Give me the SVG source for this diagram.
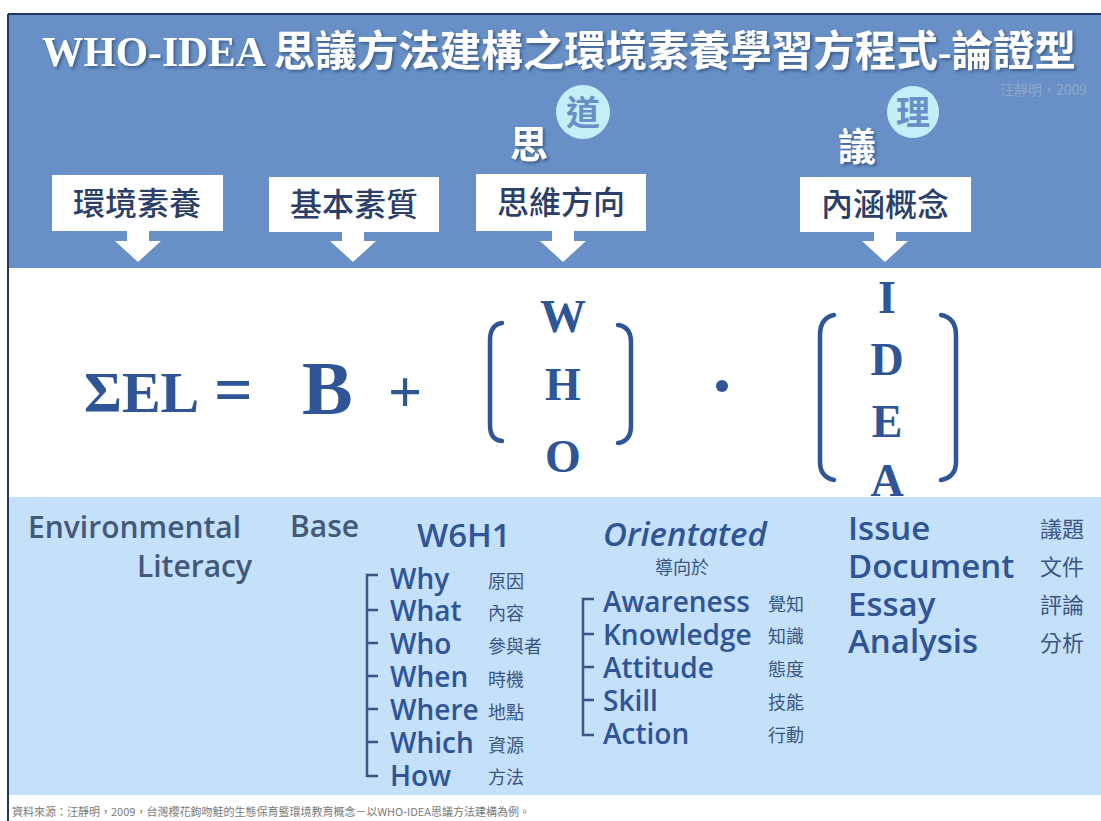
<svg xmlns="http://www.w3.org/2000/svg" width="1101" height="821" viewBox="0 0 1101 821">
<defs>
<style>
.box{fill:#ffffff}
.arr{fill:#ffffff}
.bt{font-family:"Noto Sans CJK TC",serif;font-size:32px;font-weight:500;fill:#2b3f68;text-anchor:middle}
.f{font-family:"Liberation Serif",serif;font-weight:bold;fill:#2f5597}
.fl{font-family:"Liberation Serif",serif;font-weight:bold;fill:#2f5597;font-size:46px;text-anchor:middle}
.par{fill:none;stroke:#2f5597;stroke-width:4.5;stroke-linecap:round}
.en{font-family:"Open Sans","Liberation Sans",sans-serif;font-weight:600;fill:#44597a}
.it{font-family:"Open Sans","Liberation Sans",sans-serif;font-weight:600;fill:#2f5597}
.cj{font-family:"Noto Sans CJK TC",sans-serif;fill:#3a5584}
.br{fill:none;stroke:#3a5584;stroke-width:2.5}
</style>
<filter id="sh" x="-10%" y="-20%" width="130%" height="160%">
<feDropShadow dx="2" dy="2" stdDeviation="1.5" flood-color="#233a66" flood-opacity="0.6"/>
</filter>
</defs>

<!-- backgrounds -->
<rect x="0" y="0" width="1101" height="821" fill="#ffffff"/>
<rect x="8" y="14" width="1093" height="254" fill="#6890c6"/>
<rect x="8" y="497" width="1093" height="298" fill="#c5e0f9"/>
<line x1="8" y1="14" x2="1101" y2="14" stroke="#1f3766" stroke-width="2"/>
<line x1="8" y1="14" x2="8" y2="821" stroke="#1f3766" stroke-width="2"/>

<!-- title -->
<text x="42" y="66" font-family="'Liberation Serif','Noto Sans CJK TC',serif" font-weight="bold" font-size="41.5" fill="#ffffff" filter="url(#sh)">WHO-IDEA 思議方法建構之環境素養學習方程式-論證型</text>
<text x="1000" y="95" font-family="'Noto Sans CJK TC',serif" font-size="14" fill="#8ea6c8">汪靜明，2009</text>

<!-- 思 道 -->
<g id="si-dao">
<circle cx="583" cy="112" r="27" fill="#c4eef8"/>
<text x="583" y="125" text-anchor="middle" font-family="'Noto Sans CJK TC',sans-serif" font-weight="bold" font-size="34" fill="#6890c6">道</text>
<text x="529" y="158" text-anchor="middle" font-family="'Noto Sans CJK TC',sans-serif" font-weight="bold" font-size="38" fill="#ffffff" filter="url(#sh)">思</text>
</g>
<g id="yi-li">
<circle cx="913" cy="112" r="26" fill="#c4eef8"/>
<text x="913" y="125" text-anchor="middle" font-family="'Noto Sans CJK TC',sans-serif" font-weight="bold" font-size="34" fill="#6890c6">理</text>
<text x="857" y="160" text-anchor="middle" font-family="'Noto Sans CJK TC',sans-serif" font-weight="bold" font-size="38" fill="#ffffff" filter="url(#sh)">議</text>
</g>

<!-- header boxes -->
<g id="box-el">
<rect class="box" x="52" y="175" width="171" height="56"/>
<text class="bt" x="137" y="215">環境素養</text>
</g>
<g id="box-b">
<rect class="box" x="269" y="177" width="170" height="55"/>
<text class="bt" x="354" y="216">基本素質</text>
</g>
<g id="box-who">
<rect class="box" x="476" y="174" width="170" height="57"/>
<text class="bt" x="561" y="214">思維方向</text>
</g>
<g id="box-idea">
<rect class="box" x="800" y="177" width="171" height="55"/>
<text class="bt" x="885" y="216">內涵概念</text>
</g>

<!-- arrows -->
<g id="connectors">
<polygon class="arr" points="127,230 149,230 149,241 161,241 138,262 115,241 127,241"/>
<polygon class="arr" points="342,231 364,231 364,241 376,241 353,262 330,241 342,241"/>
<polygon class="arr" points="552,230 574,230 574,241 586,241 563,262 540,241 552,241"/>
<polygon class="arr" points="874,231 896,231 896,241 908,241 885,262 862,241 874,241"/>
</g>

<!-- formula -->
<g id="formula">
<text class="f" x="84" y="412" font-size="58">ΣEL</text>
<text class="f" x="214" y="412" font-size="68">=</text>
<text class="f" x="302" y="414" font-size="76">B</text>
<text class="f" x="388" y="412" font-size="60">+</text>
<path class="par" d="M502 323 Q490 325 490 340 L490 425 Q490 440 502 441"/>
<path class="par" d="M618 325 Q631 327 631 342 L631 426 Q631 441 618 443"/>
<text class="fl" x="563" y="332">W</text>
<text class="fl" x="563" y="400">H</text>
<text class="fl" x="563" y="472">O</text>
<circle cx="722" cy="386" r="6" fill="#2f5597"/>
<path class="par" d="M834 315 Q820 318 820 335 L820 462 Q820 477 834 480"/>
<path class="par" d="M941 315 Q956 318 956 335 L956 462 Q956 477 941 480"/>
<text class="fl" x="887" y="313">I</text>
<text class="fl" x="887" y="375">D</text>
<text class="fl" x="887" y="437">E</text>
<text class="fl" x="887" y="496">A</text>
</g>

<!-- bottom explanations -->
<g id="el-text">
<text class="en" x="28" y="538" font-size="30">Environmental</text>
<text class="en" x="252" y="577" font-size="30" text-anchor="end">Literacy</text>
</g>
<g id="base-text">
<text class="en" x="290" y="537" font-size="30">Base</text>
</g>
<g id="w6h1">
<text class="it" x="417" y="547" font-size="33">W6H1</text>
<path class="br" d="M378 575 L367 575 L367 776 L378 776 M367 610 L378 610 M367 643 L378 643 M367 676 L378 676 M367 709 L378 709 M367 742 L378 742"/>
<text class="it" x="390" y="589" font-size="28">Why</text>
<text class="it" x="390" y="621" font-size="28">What</text>
<text class="it" x="390" y="654" font-size="28">Who</text>
<text class="it" x="390" y="687" font-size="28">When</text>
<text class="it" x="390" y="720" font-size="28">Where</text>
<text class="it" x="390" y="753" font-size="28">Which</text>
<text class="it" x="390" y="786" font-size="28">How</text>
<text class="cj" x="488" y="588" font-size="18">原因</text>
<text class="cj" x="488" y="620" font-size="18">內容</text>
<text class="cj" x="488" y="653" font-size="18">參與者</text>
<text class="cj" x="488" y="686" font-size="18">時機</text>
<text class="cj" x="488" y="719" font-size="18">地點</text>
<text class="cj" x="488" y="752" font-size="18">資源</text>
<text class="cj" x="488" y="784" font-size="18">方法</text>
</g>
<g id="orientated">
<text class="it" x="603" y="546" font-size="33" font-style="italic">Orientated</text>
<text class="cj" x="655" y="574" font-size="18">導向於</text>
<path class="br" d="M594 599 L583 599 L583 735 L594 735 M583 634 L594 634 M583 667 L594 667 M583 700 L594 700"/>
<text class="it" x="603" y="612" font-size="28">Awareness</text>
<text class="it" x="603" y="645" font-size="28">Knowledge</text>
<text class="it" x="603" y="678" font-size="28">Attitude</text>
<text class="it" x="603" y="711" font-size="28">Skill</text>
<text class="it" x="603" y="744" font-size="28">Action</text>
<text class="cj" x="768" y="611" font-size="18">覺知</text>
<text class="cj" x="768" y="643" font-size="18">知識</text>
<text class="cj" x="768" y="676" font-size="18">態度</text>
<text class="cj" x="768" y="709" font-size="18">技能</text>
<text class="cj" x="768" y="742" font-size="18">行動</text>
</g>
<g id="idea-text">
<text class="it" x="848" y="540" font-size="33">Issue</text>
<text class="it" x="848" y="578" font-size="33">Document</text>
<text class="it" x="848" y="616" font-size="33">Essay</text>
<text class="it" x="848" y="653" font-size="33">Analysis</text>
<text class="cj" x="1040" y="537" font-size="22">議題</text>
<text class="cj" x="1040" y="575" font-size="22">文件</text>
<text class="cj" x="1040" y="613" font-size="22">評論</text>
<text class="cj" x="1040" y="651" font-size="22">分析</text>
</g>

<!-- footnote -->
<text x="12" y="816" font-family="'Noto Sans CJK TC',serif" font-size="11" fill="#7a7a7a">資料來源：汪靜明，2009，台灣櫻花鉤吻鮭的生態保育暨環境教育概念－以WHO-IDEA思議方法建構為例。</text>
</svg>
